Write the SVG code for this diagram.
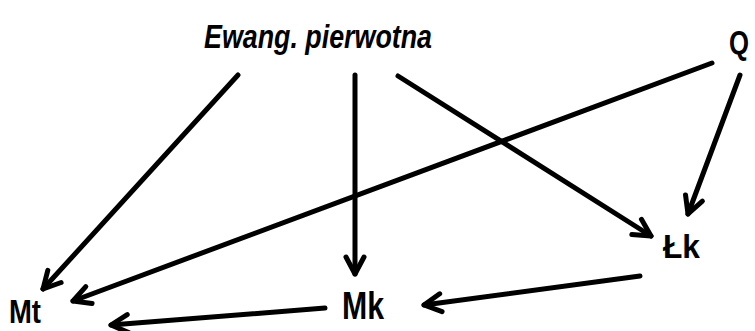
<svg xmlns="http://www.w3.org/2000/svg" width="755" height="331" viewBox="0 0 755 331">
<style>
.lbl{font-family:"Liberation Sans",Arial,sans-serif;font-weight:bold;fill:#000}
.ttl{font-family:"Liberation Sans",Arial,sans-serif;font-style:italic;font-weight:bold;fill:#000}
.edge{stroke:#000;stroke-width:5;stroke-linecap:round;fill:none;marker-end:url(#ah)}
</style>
<defs>
<marker id="ah" markerUnits="userSpaceOnUse" viewBox="-20 -12 24 24" refX="0" refY="0" markerWidth="24" markerHeight="24" orient="auto">
<path d="M-17 -9 L0 0 L-17 9" fill="none" stroke="#000" stroke-width="5" stroke-linecap="round" stroke-linejoin="round"/>
</marker>
</defs>
<rect width="755" height="331" fill="#fff"/>
<g id="ewang"><text class="ttl" x="204" y="48" font-size="34" textLength="228" lengthAdjust="spacingAndGlyphs">Ewang. pierwotna</text></g>
<g id="q"><text class="lbl" x="729" y="54" font-size="34" textLength="20" lengthAdjust="spacingAndGlyphs">Q</text></g>
<g id="mt"><text class="lbl" x="9" y="323" font-size="34" textLength="32" lengthAdjust="spacingAndGlyphs">Mt</text></g>
<g id="mk"><text class="lbl" x="342" y="319" font-size="38" textLength="42" lengthAdjust="spacingAndGlyphs">Mk</text></g>
<g id="lk"><text class="lbl" x="663" y="258" font-size="34" textLength="37" lengthAdjust="spacingAndGlyphs">Łk</text></g>
<g id="connectors">
<path class="edge" d="M238 75 L43 289"/>
<path class="edge" d="M355 75 L355 274"/>
<path class="edge" d="M398 76 L651 236"/>
<path class="edge" d="M712 63 L73 301"/>
<path class="edge" d="M740 75 L688 214"/>
<path class="edge" d="M640 276 L424 305"/>
<path class="edge" d="M325 308 L111 325"/>
</g>
</svg>
